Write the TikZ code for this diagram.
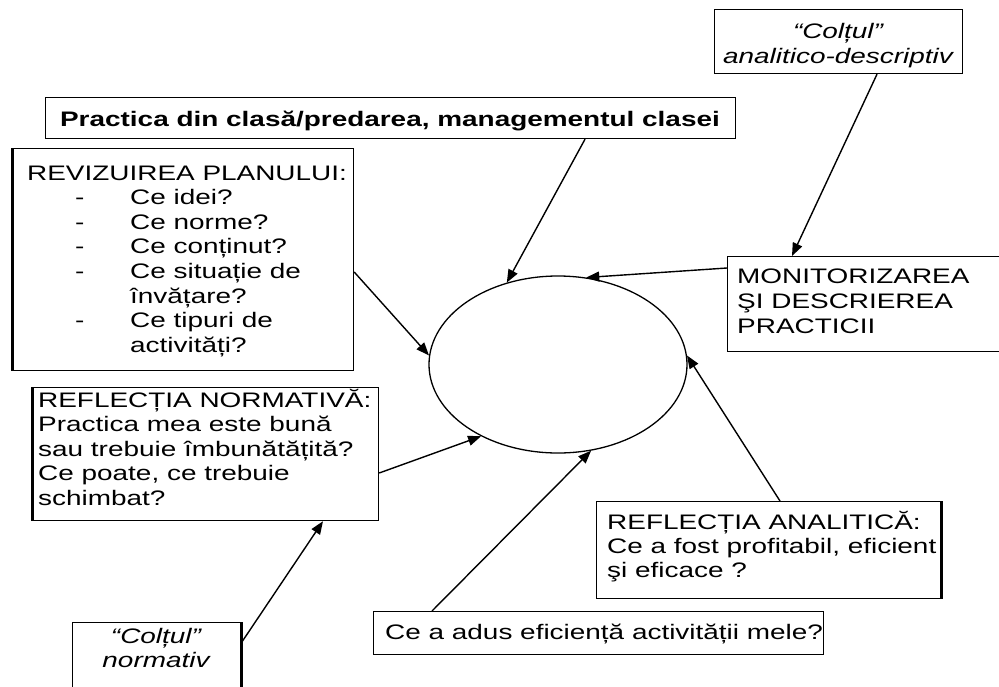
\documentclass[tikz,border=0pt]{standalone}
\usepackage{fontspec}
\setmainfont[FakeStretch=1.33]{Liberation Sans}
\usetikzlibrary{arrows.meta,shapes.geometric}
\begin{document}
\begin{tikzpicture}[x=1pt,y=-1pt,
  box/.style={draw, line width=1.2pt, rectangle, anchor=north west, inner sep=0pt},
  txt/.style={anchor=base west, inner sep=0pt, font=\fontsize{21}{25}\selectfont},
  ctxt/.style={anchor=base, inner sep=0pt, font=\fontsize{21}{25}\selectfont\itshape},
  arr/.style={line width=1.4pt, -{Triangle[length=13pt,width=10pt]}},
  thickside/.style={line width=3pt}]
\useasboundingbox (0,0) rectangle (999,686);

% boxes
\node[box, minimum width=248pt, minimum height=64pt] (cad) at (714,9) {};
\node[box, minimum width=690pt, minimum height=41pt] (bar) at (45,97) {};
\node[box, minimum width=341pt, minimum height=222pt] (rev) at (12,148) {};
\node[box, minimum width=346pt, minimum height=133pt] (norm) at (32,387) {};
\node[box, minimum width=168pt, minimum height=70pt] (cnorm) at (72,622) {};
\node[box, minimum width=450pt, minimum height=43pt] (bot) at (373,611) {};
\node[box, minimum width=344pt, minimum height=97pt] (ana) at (596,501) {};
\node[box, minimum width=275pt, minimum height=95pt] (mon) at (727,256) {};

\draw[thickside] (rev.north west) -- (rev.south west);
\draw[thickside] (norm.north west) -- (norm.south west);
\draw[thickside] (cnorm.north east) -- (cnorm.south east);
\draw[thickside] (ana.north east) -- (ana.south east);

\node[draw, ellipse, line width=1.3pt, minimum width=258pt, minimum height=177pt, inner sep=0pt] (circ) at (558,364.5) {};

% texts
\node[ctxt] (cad1) at (838,38) {“Colțul”};
\node[ctxt] (cad2) at (838,63) {analitico-descriptiv};
\node[anchor=base, inner sep=0pt, font=\fontsize{21}{25}\selectfont\bfseries] (bar1) at (390,126) {Practica din clasă/predarea, managementul clasei};

\node[txt] (rev0) at (27,180) {REVIZUIREA PLANULUI:};
\node[txt] (rev1) at (75,204.6) {\makebox[55pt][l]{-}Ce idei?};
\node[txt] (rev2) at (75,229.2) {\makebox[55pt][l]{-}Ce norme?};
\node[txt] (rev3) at (75,253.8) {\makebox[55pt][l]{-}Ce conținut?};
\node[txt] (rev4) at (75,278.4) {\makebox[55pt][l]{-}Ce situație de};
\node[txt] (rev5) at (130,303) {învățare?};
\node[txt] (rev6) at (75,327.6) {\makebox[55pt][l]{-}Ce tipuri de};
\node[txt] (rev7) at (130,352.2) {activități?};

\node[txt] (norm1) at (38,407) {REFLECȚIA NORMATIVĂ:};
\node[txt] (norm2) at (38,431.6) {Practica mea este bună};
\node[txt] (norm3) at (38,456.2) {sau trebuie îmbunătățită?};
\node[txt] (norm4) at (38,480.8) {Ce poate, ce trebuie};
\node[txt] (norm5) at (38,505.4) {schimbat?};

\node[ctxt] (cn1) at (156,643) {“Colțul”};
\node[ctxt] (cn2) at (156,667) {normativ};

\node[txt] (bot1) at (385,639) {Ce a adus eficiență activității mele?};

\node[txt] (ana1) at (607,529) {REFLECȚIA ANALITICĂ:};
\node[txt] (ana2) at (607,553) {Ce a fost profitabil, eficient};
\node[txt] (ana3) at (607,577) {şi eficace ?};

\node[txt] (mon1) at (737,283) {MONITORIZAREA};
\node[txt] (mon2) at (737,308) {ŞI DESCRIEREA};
\node[txt] (mon3) at (737,333) {PRACTICII};

% arrows
\draw[arr] ([xshift=540pt]bar.south west) -- (circ.122.7);
\draw[arr] ([yshift=-124pt]rev.north east) -- (circ.176.6);
\draw[arr] ([yshift=-86pt]norm.north east) -- (circ.223.6);
\draw[arr] ([yshift=-21pt]cnorm.north east) -- ([xshift=291pt]norm.south west);
\draw[arr] ([xshift=59pt]bot.north west) -- (circ.291);
\draw[arr] ([xshift=184pt]ana.north west) -- (circ.4);
\draw[arr] ([yshift=-12pt]mon.north west) -- (circ.72.9);
\draw[arr] ([xshift=163pt]cad.south west) -- ([xshift=65pt]mon.north west);
\end{tikzpicture}
\end{document}
